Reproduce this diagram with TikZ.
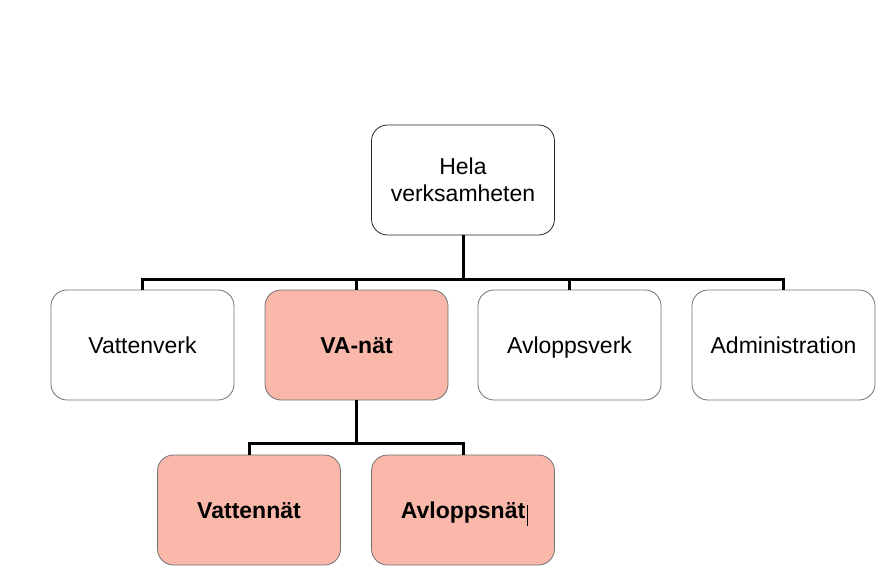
\documentclass[tikz,border=0pt]{standalone}
\usepackage{fontspec}
\setmainfont{Liberation Sans}
\definecolor{pinkfill}{HTML}{F9B8A9}
\definecolor{boxline}{HTML}{707070}
\begin{document}
\begin{tikzpicture}[x=1pt,y=-1pt,
  box/.style={draw=boxline,line width=0.8pt,rounded corners=16pt,minimum width=183pt,minimum height=110pt,align=center,font=\fontsize{23}{27.5}\selectfont,inner sep=0pt,text height=16.5pt,text depth=0pt},
  hot/.style={box,fill=pinkfill,font=\fontsize{23}{27.5}\selectfont\bfseries},
  conn/.style={line width=3pt}]
\useasboundingbox (0,0) rectangle (881,572);
\node[box,draw=black!85,text height=,text depth=] (top) at (463,180) {Hela\\verksamheten};
\node[box] (vv) at (142.5,345) {Vattenverk};
\node[hot] (va) at (356.5,345) {VA-nät};
\node[box] (av) at (569.5,345) {Avloppsverk};
\node[box] (adm) at (783.5,345) {Administration};
\node[hot] (vn) at (249,510) {Vattennät};
\node[hot] (an) at (463,510) {Avloppsnät};
\coordinate (bus1) at (463,279);
\coordinate (bus2) at (356.5,443);
\draw[conn] (top.south) -- (bus1);
\draw[conn] (vv.north) |- (bus1) -| (adm.north);
\draw[conn] (va.north) -- (va.north |- bus1);
\draw[conn] (av.north) -- (av.north |- bus1);
\draw[conn] (va.south) -- (bus2);
\draw[conn] (vn.north) |- (bus2) -| (an.north);
\draw[line width=0.8pt] ([shift={(64,-5)}]an.center) -- ([shift={(64,16)}]an.center);
\end{tikzpicture}
\end{document}
